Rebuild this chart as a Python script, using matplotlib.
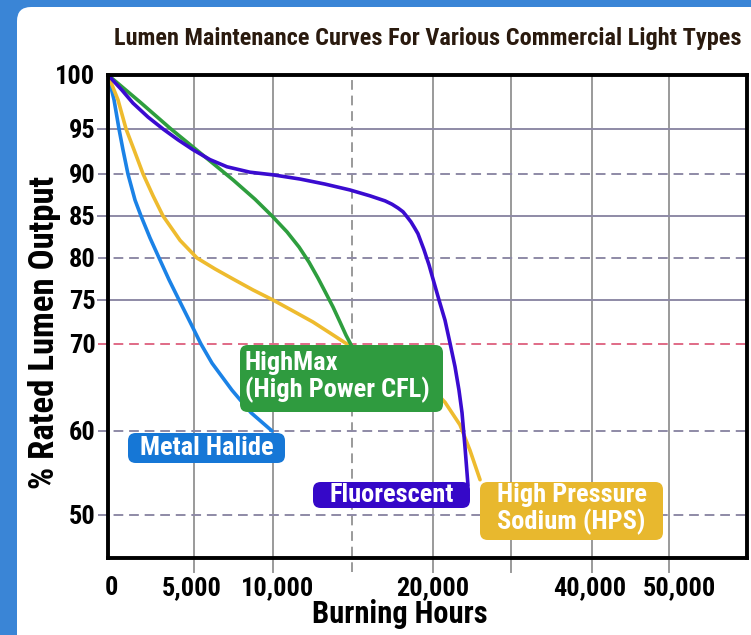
import numpy as np
import matplotlib
matplotlib.use("Agg")
import matplotlib.pyplot as plt
from matplotlib.patches import FancyBboxPatch
from matplotlib.transforms import IdentityTransform, ScaledTranslation

plt.rcParams['font.family'] = ['Roboto Condensed', 'Liberation Sans Narrow', 'Roboto', 'DejaVu Sans']
plt.rcParams['font.stretch'] = 'condensed'
plt.rcParams['font.weight'] = 'bold'

# data (hours, % rated lumen output)
mh_hours = [0, 350, 640, 870, 1160, 1570, 1920, 2440, 2970, 3550, 4130, 4770, 5440,
            6140, 7400, 8610, 9940]
mh_pct = [100, 97.7, 95, 92.7, 90, 86.9, 85, 82.4, 80, 77.4, 75, 72.5, 70,
          67.8, 64.7, 62.1, 60]

hps_hours = [0, 580, 1050, 1510, 2040, 2620, 3200, 4190, 5190, 6330, 7470, 8730, 10000,
             11270, 12530, 13610, 14680, 16110, 17350, 18580, 19820, 21540, 23460, 24740, 26030]
hps_pct = [100, 97.7, 95, 92.7, 90, 87.4, 85, 82.1, 80, 78.7, 77.5, 76.2, 75,
           73.75, 72.5, 71.25, 70, 68.6, 67.5, 66.3, 65.1, 63.3, 60.7, 57.7, 54.2]

cfl_hours = [0, 1860, 3660, 5700, 7470, 8860, 9940, 10890, 11650, 12280, 12850,
             13350, 13800, 14240, 14620, 15000]
cfl_pct = [100, 97.5, 95, 91.9, 89.3, 87.0, 85, 83.1, 81.3, 79.5, 77.6,
           75.8, 74.2, 72.5, 71.0, 69.7]

fl_hours = [0, 810, 1450, 2330, 3200, 4070, 4940, 6010, 7090, 8540, 10000, 11710,
            13290, 14870, 16110, 16730, 17040, 17470, 17840, 18150, 18400, 18640,
            18860, 19070, 19440, 19750, 20000, 20770, 21540, 22180, 22820, 23330,
            23720, 24100, 24490]
fl_pct = [100, 98.6, 97.4, 96.1, 95, 93.8, 92.7, 91.6, 90.8, 90.2, 89.9, 89.4,
          88.8, 88.1, 87.4, 87.0, 86.8, 86.4, 85.95, 85.5, 84.9, 84.3,
          83.6, 82.9, 81.0, 79.2, 77.5, 75, 72.7, 70.1, 67.4, 64.7,
          62.1, 58.1, 53.5]

x_ticks = [0, 5000, 10000, 20000, 40000, 50000]
x_labels = ["0", "5,000", "10,000", "20,000", "40,000", "50,000"]
y_ticks = [100, 95, 90, 85, 80, 75, 70, 60, 50]

# the chart's axes are not linear: breakpoints -> pixel position
x_break = [0, 5000, 10000, 15000, 20000, 30000, 40000, 50000, 60000]
x_pix = [108, 194, 273, 352, 433, 511, 592, 669, 747]
y_break = [45, 50, 60, 70, 75, 80, 85, 90, 95, 100]
y_pix = [-558, -515, -431, -344, -300, -258, -216, -174, -129, -75]

W, H = 751, 635
fig = plt.figure(figsize=(W / 100, H / 100), dpi=100)
fig.patch.set_facecolor('#3a85d6')
fig.add_artist(FancyBboxPatch((17, -30), 800, 658, boxstyle='round,pad=0,rounding_size=14',
                              transform=IdentityTransform(), facecolor='white', edgecolor='none'))

rect = [108 / W, 1 - 558 / H, (747 - 108) / W, (558 - 75) / H]

# gradient background of plot area
bg = fig.add_axes(rect, zorder=0)
rows = np.arange(75, 558)
shade = np.interp(rows, [75, 290, 305, 558], [253, 250, 241, 219]) / 255.0
img = np.repeat(shade[:, None], 2, axis=1)
bg.imshow(img, cmap='gray', vmin=0, vmax=1, aspect='auto', extent=[0, 1, 0, 1])
bg.axis('off')

ax = fig.add_axes(rect, zorder=1)
ax.set_facecolor('none')
ax.set_xscale('function', functions=(lambda v: np.interp(v, x_break, x_pix),
                                     lambda p: np.interp(p, x_pix, x_break)))
ax.set_yscale('function', functions=(lambda v: np.interp(v, y_break, y_pix),
                                     lambda p: np.interp(p, y_pix, y_break)))
ax.set_xlim(0, 60000)
ax.set_ylim(45, 100)

# grid lines, extended a bit outside the frame like tick marks
grid_col = '#9a9a9a'
for xv in [5000, 10000, 15000, 20000, 30000, 40000, 50000]:
    ls = (0, (5, 3)) if xv == 15000 else '-'
    ax.plot([xv, xv], [-0.028, 1], transform=ax.get_xaxis_transform(), color=grid_col,
            lw=1.4, ls=ls, clip_on=False, zorder=1)
for yv in [95, 85, 75]:
    ax.plot([-0.016, 1], [yv, yv], transform=ax.get_yaxis_transform(), color='#8e8aa6',
            lw=1.4, clip_on=False, zorder=1)
for yv in [90, 80, 60, 50]:
    ax.plot([-0.016, 1], [yv, yv], transform=ax.get_yaxis_transform(), color='#8e8aa6',
            lw=1.4, ls=(0, (5, 3)), clip_on=False, zorder=1)
ax.plot([-0.016, 1], [70, 70], transform=ax.get_yaxis_transform(), color='#e06a86',
        lw=1.4, ls=(0, (5, 3)), clip_on=False, zorder=1)

# curves
curve_kw = dict(lw=2.6, solid_capstyle='round', solid_joinstyle='round')
ax.plot(mh_hours, mh_pct, color='#1b82e6', zorder=3, **curve_kw)
ax.plot(hps_hours, hps_pct, color='#eebb2e', zorder=3, **curve_kw)
ax.plot(cfl_hours, cfl_pct, color='#2e9e3e', zorder=4, **curve_kw)
ax.plot(fl_hours, fl_pct, color='#3a0bd0', zorder=4, **curve_kw)


def label_box(x0, y0, x1, y1, color, text, tx, ty, ha='left'):
    # box given in reference pixels
    ax0 = (x0 - 108) / 639
    ay0 = (558 - y1) / 483
    ax.add_patch(FancyBboxPatch((ax0, ay0), (x1 - x0) / 639, (y1 - y0) / 483,
                                boxstyle='round,pad=0,rounding_size=0.012',
                                transform=ax.transAxes, facecolor=color, edgecolor='none',
                                zorder=6, clip_on=False, mutation_aspect=639 / 483))
    ax.text((tx - 108) / 639, (558 - ty) / 483, text, transform=ax.transAxes, color='white',
            fontsize=19, fontweight='bold', ha=ha, va='center', zorder=7,
            linespacing=1.12)


label_box(128, 433, 285, 463, '#1677d6', 'Metal Halide', 206.5, 448, ha='center')
label_box(240, 345, 443, 412, '#2f9b3f', 'HighMax\n(High Power CFL)', 245, 377)
label_box(313, 482, 470, 508, '#3508c8', 'Fluorescent', 391.5, 495, ha='center')
label_box(480, 482, 663, 540, '#e8b82e', 'High Pressure\nSodium (HPS)', 497, 509)

ax.set_xticks(x_ticks)
ax.set_xticklabels(x_labels)
ax.set_yticks(y_ticks)
ax.minorticks_off()
ax.tick_params(length=0, labelsize=19, colors='black')
ax.tick_params(axis='x', pad=13)
ax.tick_params(axis='y', pad=9)
# small nudges of x labels as placed in the reference
nudges = [3, -2, 5, 0, -2, 10]
for lab, dx in zip(ax.get_xticklabels(), nudges):
    lab.set_transform(lab.get_transform() + ScaledTranslation(dx / 100, 0, fig.dpi_scale_trans))
for s in ax.spines.values():
    s.set_linewidth(2.8)
    s.set_color('black')
    s.set_zorder(8)

fig.text(428 / W, 1 - 38 / H, 'Lumen Maintenance Curves For Various Commercial Light Types',
         ha='center', va='center', fontsize=17.5, fontweight='bold', color='#2a1a0e')
fig.text(45 / W, 1 - 332 / H, '% Rated Lumen Output', rotation=90, ha='center', va='center',
         fontsize=25, fontweight='bold', color='black')
fig.text(400 / W, 1 - 614 / H, 'Burning Hours', ha='center', va='center',
         fontsize=22, fontweight='bold', color='black')

fig.savefig('out.png', dpi=100, facecolor=fig.get_facecolor())
